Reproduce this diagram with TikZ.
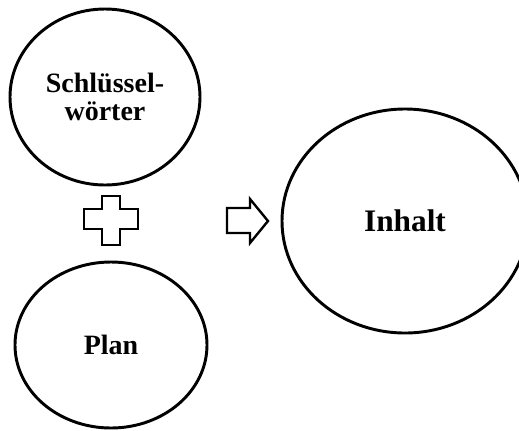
\documentclass[tikz,border=0pt]{standalone}
\usepackage{fontspec}
\setmainfont{Liberation Serif}
\usetikzlibrary{shapes.geometric}

\tikzset{
	bubble/.style={draw, ellipse, line width=2.2pt, inner sep=0pt, align=center, font=\bfseries\fontsize{21}{21}\selectfont},
	symb/.style={draw, line width=1.8pt, line join=miter}
}

\begin{document}
\begin{tikzpicture}[x=0.75pt,y=0.75pt,yscale=-1]
	\useasboundingbox (0,0) rectangle (519,430);
	\clip (0,0) rectangle (519,430);
	
	\node[bubble, minimum width=142.5pt, minimum height=132pt] (keywords) at (105,97) {Schlüssel-\\wörter};
	\node[bubble, minimum width=144pt, minimum height=124.5pt] (plan) at (111,345) {Plan};
	\node[bubble, minimum width=184.5pt, minimum height=168pt, font=\bfseries\fontsize{23.5}{24}\selectfont] (content) at (405,221) {Inhalt};
	
	%plus
	\draw [symb] (102,196) -- (120,196) -- (120,209) -- (138,209) -- (138,229) -- (120,229) -- (120,245) -- (102,245) -- (102,229) -- (84,229) -- (84,209) -- (102,209) -- cycle ;
	
	%arrow
	\draw [symb] (227,208) -- (250,208) -- (250,199) -- (268,221) -- (250,243) -- (250,233) -- (227,233) -- cycle ;
	
\end{tikzpicture}
\end{document}
